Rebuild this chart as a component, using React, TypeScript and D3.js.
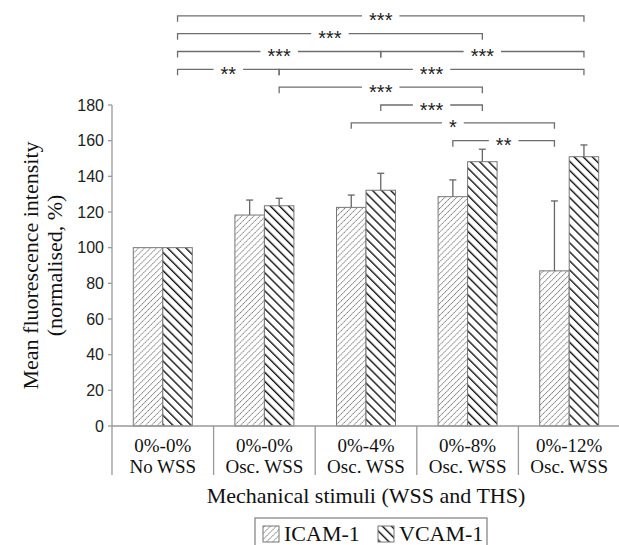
import { useMemo } from "react";
import * as d3 from "d3";

const strainLabels = ["0%-0%", "0%-0%", "0%-4%", "0%-8%", "0%-12%"];
const wssLabels = ["No WSS", "Osc. WSS", "Osc. WSS", "Osc. WSS", "Osc. WSS"];
const seriesNames = ["ICAM-1", "VCAM-1"];
const icamValues = [100, 118.3, 122.6, 128.6, 87];
const icamErrors = [0, 8.4, 6.9, 9.4, 39.2];
const vcamValues = [100, 123.5, 132.2, 148.2, 151];
const vcamErrors = [0, 4.2, 9.5, 7, 6.6];
const yTicks = [0, 20, 40, 60, 80, 100, 120, 140, 160, 180];

// significance brackets: [group, series] -> [group, series], height in data units
const comparisons = [
  { from: [0, 1], to: [4, 1], level: 230, label: "***" },
  { from: [0, 1], to: [3, 1], level: 220, label: "***" },
  { from: [0, 1], to: [2, 1], level: 210, label: "***" },
  { from: [2, 1], to: [4, 1], level: 210, label: "***" },
  { from: [0, 1], to: [1, 1], level: 200, label: "**" },
  { from: [1, 1], to: [4, 1], level: 200, label: "***" },
  { from: [1, 1], to: [3, 1], level: 190, label: "***" },
  { from: [2, 1], to: [3, 1], level: 180, label: "***" },
  { from: [2, 0], to: [4, 0], level: 170, label: "*" },
  { from: [3, 0], to: [4, 0], level: 160, label: "**" },
];

const serif = { fontFamily: "'Liberation Serif', Tinos, 'DejaVu Serif', serif" };
const sans = { fontFamily: "'Liberation Sans', Arimo, Arial, sans-serif" };

export default function App() {
  const width = 619;
  const height = 545;
  const plot = { left: 112, right: 620, top: 105, bottom: 426 };
  const tableBottom = 475;

  const xScale = useMemo(
    () => d3.scaleBand<number>().domain(d3.range(5)).range([plot.left, plot.right]),
    []
  );
  const yScale = useMemo(
    () => d3.scaleLinear().domain([0, 180]).range([plot.bottom, plot.top]),
    []
  );
  const barW = 29.5;
  const xSub = d3
    .scaleBand<string>()
    .domain(seriesNames)
    .range([xScale.bandwidth() / 2 - barW, xScale.bandwidth() / 2 + barW]);

  const seriesData = [
    { name: "ICAM-1", values: icamValues, errors: icamErrors, fill: "url(#icam)" },
    { name: "VCAM-1", values: vcamValues, errors: vcamErrors, fill: "url(#vcam)" },
  ];

  const barCenter = (g: number, s: number) =>
    (xScale(g) || 0) + (xSub(seriesNames[s]) || 0) + xSub.bandwidth() / 2;

  const starFont = 20;

  return (
    <svg
      width={width}
      height={height}
      style={{ position: "absolute", left: 0, top: 0, background: "#fff" }}
    >
      <defs>
        <pattern
          id="icam"
          patternUnits="userSpaceOnUse"
          width={4.2}
          height={4.2}
          patternTransform="rotate(45)"
        >
          <rect width={4.2} height={4.2} fill="#fff" />
          <line x1={0} y1={0} x2={0} y2={4.2} stroke="#7a7a7a" strokeWidth={1.8} strokeDasharray="1.4,0.7" />
        </pattern>
        <pattern
          id="vcam"
          patternUnits="userSpaceOnUse"
          width={6.4}
          height={6.4}
          patternTransform="rotate(-45)"
        >
          <rect width={6.4} height={6.4} fill="#fff" />
          <line x1={0} y1={0} x2={0} y2={6.4} stroke="#111" strokeWidth={2.8} />
        </pattern>
      </defs>

      {/* Significance brackets */}
      {comparisons.map((c, i) => {
        const x1 = barCenter(c.from[0], c.from[1]);
        const x2 = barCenter(c.to[0], c.to[1]);
        const y = yScale(c.level);
        const mid = (x1 + x2) / 2;
        const half = (c.label.length * 7.8) / 2 + 7;
        return (
          <g key={i} stroke="#6e6e6e" strokeWidth={1.3} fill="none">
            <path d={`M${x1},${y + 6}V${y}H${mid - half}`} />
            <path d={`M${mid + half},${y}H${x2}V${y + 6}`} />
            <text
              x={mid}
              y={y + starFont * 0.58}
              textAnchor="middle"
              style={sans}
              fontSize={starFont}
              fill="#222"
              stroke="none"
            >
              {c.label}
            </text>
          </g>
        );
      })}

      {/* Bars */}
      {seriesData.map((s, si) =>
        s.values.map((v, g) => (
          <rect
            key={`${si}-${g}`}
            x={(xScale(g) || 0) + (xSub(s.name) || 0)}
            y={yScale(v)}
            width={xSub.bandwidth()}
            height={yScale(0) - yScale(v)}
            fill={s.fill}
            stroke="#777"
            strokeWidth={1}
          />
        ))
      )}

      {/* Error bars */}
      {seriesData.map((s, si) =>
        s.values.map((v, g) => {
          const e = s.errors[g];
          if (!e) return null;
          const cx = barCenter(g, si);
          return (
            <g key={`e-${si}-${g}`} stroke="#666" strokeWidth={1.3}>
              <line x1={cx} x2={cx} y1={yScale(v)} y2={yScale(v + e)} />
              <line x1={cx - 3.5} x2={cx + 3.5} y1={yScale(v + e)} y2={yScale(v + e)} />
            </g>
          );
        })
      )}

      {/* Y axis */}
      <g>
        <line x1={plot.left} x2={plot.left} y1={yScale(180)} y2={tableBottom} stroke="#999" strokeWidth={1.3} />
        {yTicks.map((t) => (
          <g key={t}>
            <line x1={plot.left - 4} x2={plot.left} y1={yScale(t)} y2={yScale(t)} stroke="#999" strokeWidth={1.3} />
            <text
              x={plot.left - 8}
              y={yScale(t)}
              dy="0.35em"
              textAnchor="end"
              style={sans}
              fontSize={16}
              fill="#222"
            >
              {t}
            </text>
          </g>
        ))}
      </g>

      {/* X axis with category table */}
      <line x1={plot.left} x2={width} y1={plot.bottom} y2={plot.bottom} stroke="#999" strokeWidth={1.3} />
      {d3.range(1, 5).map((g) => (
        <line
          key={g}
          x1={xScale(g) || 0}
          x2={xScale(g) || 0}
          y1={plot.bottom}
          y2={tableBottom}
          stroke="#999"
          strokeWidth={1.3}
        />
      ))}
      {strainLabels.map((label, g) => {
        const cx = (xScale(g) || 0) + xScale.bandwidth() / 2;
        return (
          <g key={g} style={serif} fontSize={19} fill="#111" textAnchor="middle">
            <text x={cx} y={452}>{label}</text>
            <text x={cx} y={473}>{wssLabels[g]}</text>
          </g>
        );
      })}

      {/* Axis titles */}
      <text
        x={(plot.left + plot.right) / 2}
        y={503}
        textAnchor="middle"
        style={serif}
        fontSize={22}
        fill="#111"
      >
        Mechanical stimuli (WSS and THS)
      </text>
      <g transform={`translate(0, ${(plot.top + plot.bottom) / 2}) rotate(-90)`}>
        <text x={0} y={38} textAnchor="middle" style={serif} fontSize={22} fill="#111">
          Mean fluorescence intensity
        </text>
        <text x={0} y={62} textAnchor="middle" style={serif} fontSize={22} fill="#111">
          (normalised, %)
        </text>
      </g>

      {/* Legend */}
      <g>
        <rect x={255} y={518} width={232} height={34} fill="#fff" stroke="#888" strokeWidth={1.3} />
        <rect x={263} y={526} width={16} height={16} fill="url(#icam)" stroke="#777" />
        <text x={284} y={541} style={serif} fontSize={22} fill="#111">
          {seriesNames[0]}
        </text>
        <rect x={378} y={526} width={16} height={16} fill="url(#vcam)" stroke="#777" />
        <text x={399} y={541} style={serif} fontSize={22} fill="#111">
          {seriesNames[1]}
        </text>
      </g>
    </svg>
  );
}
